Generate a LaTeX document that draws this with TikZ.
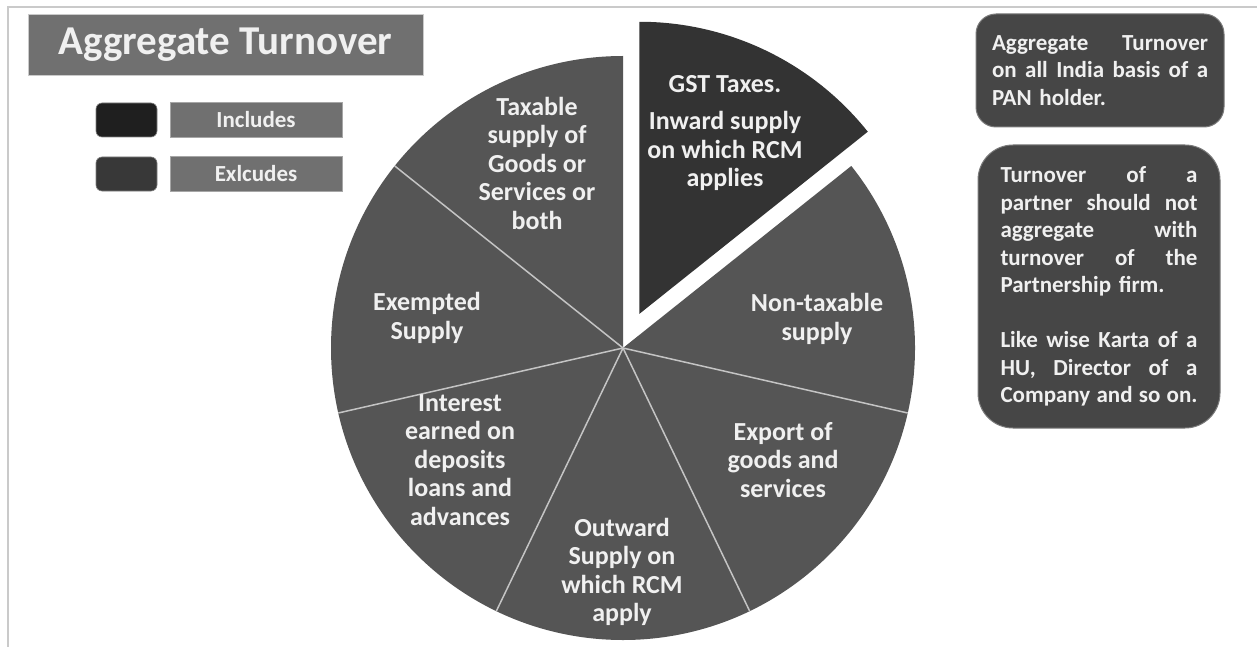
\documentclass[tikz,border=0pt]{standalone}
\usepackage{fontspec}
\setmainfont{Carlito}
\definecolor{slicegray}{HTML}{555555}
\definecolor{gstdark}{HTML}{333333}
\definecolor{sepline}{HTML}{C4C4C4}
\definecolor{framegray}{HTML}{CACACA}
\definecolor{titlefill}{HTML}{707070}
\definecolor{txtlight}{HTML}{F0F0F0}
\definecolor{incfill}{HTML}{1F1F1F}
\definecolor{excfill}{HTML}{383838}
\definecolor{notefill}{HTML}{464646}
\definecolor{noteborder}{HTML}{7A7A7A}
\newcommand{\jl}[2]{\leavevmode\hbox to #1{#2}}
\begin{document}
\begin{tikzpicture}[x=1pt,y=-1pt,
  slicetext/.style={text=txtlight, font=\bfseries\fontsize{26}{28.5}\selectfont, align=center, inner sep=0pt},
  legendbox/.style={fill=titlefill, draw=framegray!60!titlefill, line width=0.6pt, minimum width=172pt, minimum height=35pt, inner sep=0pt, text=txtlight, font=\bfseries\fontsize{23}{26}\selectfont},
  swatch/.style={rounded corners=6pt, minimum width=61pt, minimum height=34pt, inner sep=0pt, draw=gray, line width=0.6pt},
  notebox/.style={fill=notefill, draw=noteborder, line width=1pt, text=txtlight, font=\bfseries\fontsize{23}{27.5}\selectfont, align=left, inner ysep=0pt}
]
\useasboundingbox (0,0) rectangle (1257,647);
\fill[white] (0,0) rectangle (1257,647);
\draw[framegray, line width=2pt] (8,647) -- (8,7) -- (1257,7);
% pie
\begin{scope}[shift={(623,348)}, y=1pt]
  \fill[slicegray] (0,0) -- (90:292) arc[start angle=90, end angle=398.57, radius=292] -- cycle;
  \foreach \a in {141.43,192.86,244.29,295.71,347.14}
    \draw[sepline, line width=1.5pt] (0,0) -- (\a:292);
  \fill[gstdark, shift={(64.29:38)}] (0,0) -- (38.57:292) arc[start angle=38.57, end angle=90, radius=292] -- cycle;
\end{scope}
% pie labels
\node[slicetext] (taxable) at (537,163) {Taxable\\supply of\\Goods or\\Services or\\both};
\node[slicetext] (gst) at (725,133) {GST Taxes.\\[9pt]Inward supply\\on which RCM\\applies};
\node[slicetext] (nontax) at (817,319) {Non-taxable\\supply};
\node[slicetext] (export) at (783,460) {Export of\\goods and\\services};
\node[slicetext] (outward) at (622,572) {Outward\\Supply on\\which RCM\\apply};
\node[slicetext] (interest) at (460,460) {Interest\\earned on\\deposits\\loans and\\advances};
\node[slicetext] (exempt) at (427,318) {Exempted\\Supply};
% title and legend
\node[fill=titlefill, draw=framegray, line width=0.8pt, minimum width=395pt, minimum height=61pt, inner sep=0pt, text=txtlight, font=\bfseries\fontsize{41}{48}\selectfont] (title) at (225.5,44.5) {Aggregate Turnover};
\node[swatch, fill=incfill] (incsw) at (126.5,120) {};
\node[legendbox] (inclab) at (256,119.5) {Includes};
\node[swatch, fill=excfill] (excsw) at (126.5,174) {};
\node[legendbox] (exclab) at (256,173.5) {Exlcudes};
% notes
\node[notebox, rounded corners=20pt, text width=216pt, inner xsep=16pt, minimum height=113pt] (note1) at (1100,70.5)
  {\jl{216pt}{Aggregate\hfill Turnover}\\\jl{216pt}{on\hfill all\hfill India\hfill basis\hfill of\hfill a}\\PAN holder.};
\node[notebox, rounded corners=35pt, text width=197pt, inner xsep=22.5pt, minimum height=283pt] (note2) at (1099,286.5)
  {\jl{197pt}{Turnover\hfill of\hfill a}\\\jl{197pt}{partner\hfill should\hfill not}\\\jl{197pt}{aggregate\hfill with}\\\jl{197pt}{turnover\hfill of\hfill the}\\Partnership firm.\\[27.5pt]\jl{197pt}{Like\hfill wise\hfill Karta\hfill of\hfill a}\\\jl{197pt}{HU,\hfill Director\hfill of\hfill a}\\\jl{197pt}{Company\hfill and\hfill so\hfill on.}};
\end{tikzpicture}
\end{document}
